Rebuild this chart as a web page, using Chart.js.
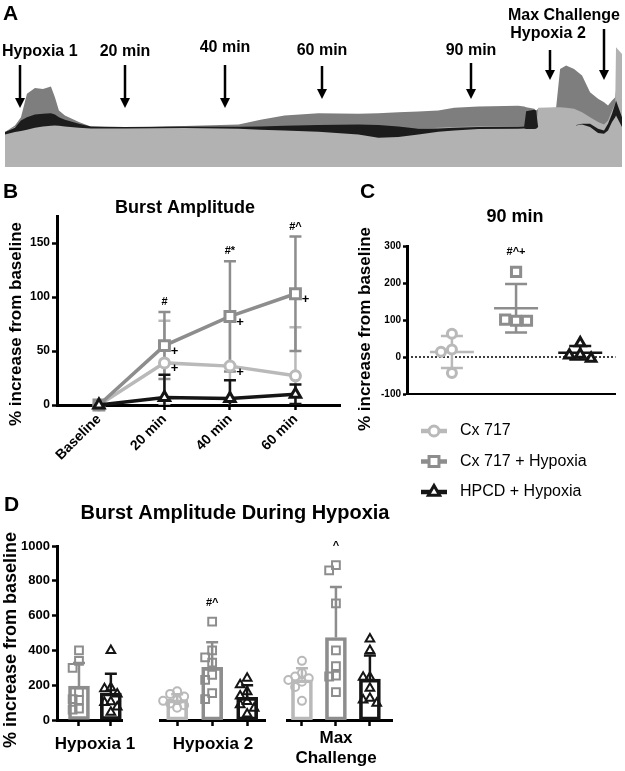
<!DOCTYPE html>
<html>
<head>
<meta charset="utf-8">
<title>Burst amplitude</title>
<script src="https://cdn.jsdelivr.net/npm/chart.js@4.4.1/dist/chart.umd.min.js"></script>
<style>
  html, body { margin: 0; padding: 0; background: #fff; }
  body { width: 625px; height: 771px; position: relative; overflow: hidden; }
  canvas { position: absolute; }
</style>
</head>
<body>
<canvas id="traceChart" width="625" height="178" style="left:0;top:0"></canvas>
<canvas id="burstChart" width="350" height="312" style="left:0;top:178px"></canvas>
<canvas id="min90Chart" width="275" height="352" style="left:350px;top:178px"></canvas>
<canvas id="hyp1Chart" width="400" height="281" style="left:0;top:490px"></canvas>
<canvas id="hyp2Chart" width="400" height="281" style="left:0;top:490px"></canvas>
<canvas id="maxChart" width="400" height="281" style="left:0;top:490px"></canvas>
<script>
const groups = ["Cx 717", "Cx 717 + Hypoxia", "HPCD + Hypoxia"];

// A: raw burst trace (position along the recording, amplitude in arbitrary units)
const traceX = [0, 25, 40, 55, 75, 95, 115, 125, 135, 150, 185, 215, 300, 450, 585, 640, 700, 785, 885, 935, 985, 1035, 1085, 1125, 1185, 1285, 1300, 1305, 1325, 1330, 1335, 1380, 1390, 1405, 1425, 1445, 1465, 1485, 1500, 1510, 1520, 1528, 1530, 1545];
const traceCx717 = [105, 120, 128, 132, 134, 134, 132, 130, 128, 126, 122, 120, 118, 122, 120, 118, 116, 115, 112, 110, 112, 115, 118, 120, 122, 122, 122, 122, 122, 122, 178, 180, 180, 178, 175, 165, 150, 135, 128, 140, 170, 190, 360, 340];
const traceCx717Hyp = [105, 125, 150, 220, 238, 235, 242, 210, 170, 155, 135, 122, 118, 123, 128, 142, 155, 162, 160, 162, 165, 167, 170, 178, 182, 184, 182, 180, 175, 170, 175, 178, 295, 305, 295, 275, 225, 205, 195, 185, 200, 210, 230, 270];
const traceHpcdTop = [105, 118, 140, 150, 158, 160, 162, 158, 150, 142, 130, 122, 120, 122, 121, 122, 124, 126, 128, 126, 122, 115, 116, 118, 120, 121, 122, 168, 172, 170, 120, 120, 120, 120, 125, 130, 130, 115, 110, 130, 160, 190, 200, 150];
const traceHpcdBottom = [98, 105, 108, 112, 118, 122, 124, 125, 124, 122, 118, 116, 116, 117, 115, 112, 110, 106, 98, 88, 90, 98, 106, 110, 114, 115, 116, 114, 114, 115, 120, 120, 120, 120, 125, 128, 120, 102, 100, 110, 135, 150, 155, 120];
const eventLabels = ["Hypoxia 1", "20 min", "40 min", "60 min", "90 min", "Hypoxia 2", "Max Challenge"];
const eventX = [37, 301, 552, 795, 1167, 1365, 1500];

// B: burst amplitude over time (mean and SD)
const timeLabels = ["Baseline", "20 min", "40 min", "60 min"];
const burstCx717 = [0, 39, 36, 27];
const burstCx717Sd = [0, 39, 46, 45];
const burstCx717Hyp = [0, 55, 82, 103];
const burstCx717HypSd = [0, 31, 51, 53];
const burstHpcd = [0, 7, 6, 10];
const burstHpcdSd = [0, 21, 17, 9];
const plusCx717 = [0, 1, 1, 0];
const plusCx717Hyp = [0, 1, 1, 1];
const plusHpcd = [0, 0, 0, 0];
const sigB = ["", "#", "#*", "#^"];
const ticksB = [0, 50, 100, 150];

// C: 90 min, individual animals
const min90Cx717 = [63, 20, 14, -43];
const min90Cx717Hyp = [230, 98, 101, 98];
const min90Hpcd = [38, 7, 5, -4];
const sigC = ["", "#^+", ""];
const ticksC = [-100, 0, 100, 200, 300];

// D: burst amplitude during hypoxia, individual animals
const hypoxiaLabels = ["Hypoxia 1", "Hypoxia 2", ["Max", "Challenge"]];
const hyp1Cx717Hyp = [400, 340, 300, 160, 120, 115, 65, 60];
const hyp1Hpcd = [400, 185, 180, 150, 105, 100, 75, 45];
const hyp2Cx717 = [165, 150, 135, 115, 110, 95, 85, 70];
const hyp2Cx717Hyp = [565, 400, 360, 330, 260, 230, 155, 120];
const hyp2Hpcd = [240, 202, 163, 138, 106, 87, 67, 35];
const maxCx717 = [340, 270, 250, 240, 230, 220, 190, 110];
const maxCx717Hyp = [890, 860, 670, 400, 310, 255, 250, 160];
const maxHpcd = [465, 400, 246, 246, 183, 125, 115, 96];
const sigD = [["", ""], ["", "#^", ""], ["", "^", ""]];
const ticksD = [0, 200, 400, 600, 800, 1000];

const yTitle = "% increase from baseline";

// ---- styling ----
const FONT = "'Liberation Sans', Arial, Helvetica, sans-serif";
const COLORS = ["#b9b9b9", "#8d8d8d", "#151515"];
const STYLES = ["circle", "rect", "triangle"];

Chart.defaults.font.family = FONT;
Chart.defaults.color = "#000";
Chart.defaults.animation = false;
Chart.defaults.responsive = false;
Chart.defaults.plugins.legend.display = false;
Chart.defaults.plugins.tooltip.enabled = false;

const mean = a => a.reduce((s, v) => s + v, 0) / a.length;
const sd = a => {
  const m = mean(a);
  return Math.sqrt(a.reduce((s, v) => s + (v - m) ** 2, 0) / (a.length - 1));
};

// simple beeswarm: spread points sideways when they would overlap
function swarm(vals, gap, step) {
  const placed = [];
  return vals.map(v => {
    for (const k of [0, -1, 1, -2, 2, -3, 3]) {
      if (!placed.some(p => p.k === k && Math.abs(p.v - v) < gap)) {
        placed.push({ k, v });
        return k * step;
      }
    }
    return 0;
  });
}

function yScale(min, max, ticks, o) {
  const shown = o.display !== false;
  return {
    type: "linear", min, max, display: shown,
    afterBuildTicks: s => { s.ticks = ticks.map(value => ({ value })); },
    afterFit: s => { s.width = shown ? o.width : 0; },
    border: { display: true, color: "#000", width: 3 },
    grid: { drawOnChartArea: false, color: "#000", tickLength: o.tick, tickWidth: 2.5 },
    ticks: { callback: v => String(v), font: { size: o.size, weight: "bold" }, padding: 2, color: "#000" }
  };
}

function textsPlugin(items) {
  return {
    id: "texts",
    afterDraw(chart) {
      const ctx = chart.ctx;
      items.forEach(t => {
        ctx.save();
        ctx.translate(t.x, t.y);
        if (t.rot) ctx.rotate(t.rot);
        ctx.font = `bold ${t.size}px ${FONT}`;
        ctx.fillStyle = "#000";
        ctx.textAlign = t.align || "center";
        ctx.textBaseline = "middle";
        ctx.fillText(t.text, 0, 0);
        ctx.restore();
      });
    }
  };
}

function errorBarsPlugin(o) {
  return {
    id: "errorBars",
    beforeDatasetsDraw(chart) {
      const { ctx, chartArea: a } = chart, ys = chart.scales.y;
      ctx.save();
      ctx.beginPath();
      ctx.rect(a.left, 0, chart.width - a.left, a.bottom);
      ctx.clip();
      chart.data.datasets.forEach((ds, di) => {
        if (!ds.errs) return;
        chart.getDatasetMeta(di).data.forEach((el, i) => {
          const e = ds.errs[i];
          if (!e) return;
          const m = ds.data[i].y, x = el.x;
          const y1 = ys.getPixelForValue(m + e);
          const y0 = ys.getPixelForValue(o.upperOnly ? m : m - e);
          ctx.strokeStyle = Array.isArray(ds.borderColor) ? ds.borderColor[i] : ds.borderColor;
          ctx.lineWidth = o.width;
          ctx.beginPath();
          ctx.moveTo(x, y0); ctx.lineTo(x, y1);
          ctx.moveTo(x - o.cap, y1); ctx.lineTo(x + o.cap, y1);
          if (!o.upperOnly) { ctx.moveTo(x - o.cap, y0); ctx.lineTo(x + o.cap, y0); }
          ctx.stroke();
        });
      });
      ctx.restore();
    }
  };
}

function sigPlugin(labels, tops, gap, size) {
  return {
    id: "sig",
    afterDatasetsDraw(chart) {
      const ctx = chart.ctx, xs = chart.scales.x, ys = chart.scales.y;
      ctx.save();
      ctx.font = `bold ${size}px ${FONT}`;
      ctx.fillStyle = "#000";
      ctx.textAlign = "center";
      ctx.textBaseline = "middle";
      labels.forEach((t, i) => {
        if (t) ctx.fillText(t, xs.getPixelForValue(i), ys.getPixelForValue(tops[i]) - gap);
      });
      ctx.restore();
    }
  };
}

function marker(ctx, style, x, y, r) {
  ctx.beginPath();
  if (style === "circle") {
    ctx.arc(x, y, r, 0, Math.PI * 2);
  } else if (style === "rect") {
    const s = r * Math.SQRT1_2;
    ctx.rect(x - s, y - s, 2 * s, 2 * s);
  } else {
    ctx.moveTo(x, y - r);
    ctx.lineTo(x + r * 0.866, y + r * 0.5);
    ctx.lineTo(x - r * 0.866, y + r * 0.5);
    ctx.closePath();
  }
  ctx.fill();
  ctx.stroke();
}

// ---- A: trace ----
const pts = ys => traceX.map((x, i) => ({ x, y: ys[i] }));
const arrowLayout = [
  { top: 65, tip: 108, ly: 52, align: "left", lx: 2 },
  { top: 65, tip: 108, ly: 52 },
  { top: 65, tip: 108, ly: 48 },
  { top: 66, tip: 99, ly: 51 },
  { top: 63, tip: 99, ly: 51 },
  { top: 50, tip: 80, ly: 34, dx: -2 },
  { top: 29, tip: 80, ly: 16, align: "right", lx: 620 }
];
const arrowsPlugin = {
  id: "arrows",
  afterDraw(chart) {
    const ctx = chart.ctx, xs = chart.scales.x;
    arrowLayout.forEach((a, i) => {
      const x = Math.round(xs.getPixelForValue(eventX[i]));
      ctx.save();
      ctx.strokeStyle = ctx.fillStyle = "#000";
      ctx.lineWidth = 2.5;
      ctx.beginPath(); ctx.moveTo(x, a.top); ctx.lineTo(x, a.tip - 8); ctx.stroke();
      ctx.beginPath();
      ctx.moveTo(x - 5, a.tip - 10); ctx.lineTo(x + 5, a.tip - 10); ctx.lineTo(x, a.tip);
      ctx.closePath(); ctx.fill();
      ctx.font = `bold 16px ${FONT}`;
      ctx.textAlign = a.align || "center";
      ctx.textBaseline = "middle";
      ctx.fillText(eventLabels[i], a.lx !== undefined ? a.lx : x + (a.dx || 0), a.ly);
      ctx.restore();
    });
  }
};
const flat = { borderWidth: 0, borderColor: "rgba(0,0,0,0)", pointRadius: 0, tension: 0 };
new Chart(document.getElementById("traceChart"), {
  type: "line",
  data: {
    datasets: [
      { ...flat, data: pts(traceHpcdTop), fill: "+1", backgroundColor: "#1c1c1c", order: 1 },
      { ...flat, data: pts(traceHpcdBottom), fill: false, order: 1 },
      { ...flat, data: pts(traceCx717), fill: "origin", backgroundColor: "#b2b2b2", order: 2 },
      { ...flat, data: pts(traceCx717Hyp), fill: "origin", backgroundColor: "#7e7e7e", order: 3 }
    ]
  },
  options: {
    layout: { padding: { left: 5, right: 3, top: 44, bottom: 11 } },
    scales: {
      x: { type: "linear", display: false, min: 0, max: 1545 },
      y: { type: "linear", display: false, min: 0, max: 370 }
    }
  },
  plugins: [arrowsPlugin, textsPlugin([{ text: "A", x: 3, y: 14, size: 21, align: "left" }])]
});

// ---- B: burst amplitude over time ----
const seriesB = [
  { means: burstCx717, sd: burstCx717Sd, plus: plusCx717, g: 0, r: 5, order: 3 },
  { means: burstCx717Hyp, sd: burstCx717HypSd, plus: plusCx717Hyp, g: 1, r: 7, order: 2 },
  { means: burstHpcd, sd: burstHpcdSd, plus: plusHpcd, g: 2, r: 6, order: 1 }
];
const plusPlugin = {
  id: "plus",
  afterDatasetsDraw(chart) {
    const ctx = chart.ctx;
    ctx.save();
    ctx.font = `bold 13px ${FONT}`;
    ctx.fillStyle = "#000";
    ctx.textAlign = "center";
    ctx.textBaseline = "middle";
    chart.data.datasets.forEach((ds, di) => {
      chart.getDatasetMeta(di).data.forEach((el, i) => {
        if (ds.plus[i]) ctx.fillText("+", el.x + 10, el.y + 6);
      });
    });
    ctx.restore();
  }
};
new Chart(document.getElementById("burstChart"), {
  type: "line",
  data: {
    datasets: seriesB.map(s => ({
      label: groups[s.g],
      data: s.means.map((y, i) => ({ x: i, y })),
      errs: s.sd, plus: s.plus,
      borderColor: COLORS[s.g], borderWidth: 3.5, tension: 0,
      pointStyle: STYLES[s.g], pointRadius: s.r, pointBorderWidth: 3,
      pointBorderColor: COLORS[s.g], pointBackgroundColor: "#fff",
      order: s.order, clip: false
    }))
  },
  options: {
    layout: { padding: { top: 38, right: 8, left: 0, bottom: 0 } },
    scales: {
      x: {
        type: "linear", min: -0.64, max: 3.68,
        afterBuildTicks: s => { s.ticks = timeLabels.map((_, i) => ({ value: i })); },
        afterFit: s => { s.height = 85; },
        border: { display: true, color: "#000", width: 3 },
        grid: { drawOnChartArea: false, color: "#000", tickLength: 5, tickWidth: 2.5 },
        ticks: {
          callback: v => timeLabels[v], minRotation: 45, maxRotation: 45, autoSkip: false,
          font: { size: 14, weight: "bold" }, padding: 1, color: "#000"
        }
      },
      y: yScale(0, 175, ticksB, { width: 57, tick: 5, size: 12 })
    }
  },
  plugins: [
    errorBarsPlugin({ cap: 6, width: 2.5 }),
    plusPlugin,
    sigPlugin(sigB, timeLabels.map((_, i) => Math.max(...seriesB.map(s => s.means[i] + s.sd[i]))), 10, 11),
    textsPlugin([
      { text: "B", x: 3, y: 14, size: 21, align: "left" },
      { text: "Burst Amplitude", x: 185, y: 30, size: 18 },
      { text: yTitle, x: 16, y: 146, size: 17, rot: -Math.PI / 2 }
    ])
  ]
});

// ---- C: 90 min ----
const setsC = [min90Cx717, min90Cx717Hyp, min90Hpcd];
const sizeC = [4.5, 6.5, 5.5];
const meanSdPlugin = {
  id: "meanSd",
  beforeDatasetsDraw(chart) {
    const { ctx, chartArea: a } = chart, xs = chart.scales.x, ys = chart.scales.y;
    ctx.save();
    const y0 = ys.getPixelForValue(0);
    ctx.strokeStyle = "#000";
    ctx.lineWidth = 1.5;
    ctx.setLineDash([2, 2]);
    ctx.beginPath(); ctx.moveTo(a.left, y0); ctx.lineTo(a.right, y0); ctx.stroke();
    ctx.setLineDash([]);
    chart.data.datasets.forEach((ds, g) => {
      const m = mean(ds.stats), s = sd(ds.stats), x = xs.getPixelForValue(g);
      const ym = ys.getPixelForValue(m), yt = ys.getPixelForValue(m + s), yb = ys.getPixelForValue(m - s);
      ctx.strokeStyle = ds.pointBorderColor;
      ctx.lineWidth = 2.5;
      ctx.beginPath();
      ctx.moveTo(x - 22, ym); ctx.lineTo(x + 22, ym);
      ctx.moveTo(x, yt); ctx.lineTo(x, yb);
      ctx.moveTo(x - 11, yt); ctx.lineTo(x + 11, yt);
      ctx.moveTo(x - 11, yb); ctx.lineTo(x + 11, yb);
      ctx.stroke();
    });
    ctx.restore();
  }
};
const legendPlugin = {
  id: "legendRows",
  afterDraw(chart) {
    const ctx = chart.ctx, x = 84;
    chart.data.datasets.forEach((ds, g) => {
      const y = 253 + g * 30.5;
      ctx.save();
      ctx.strokeStyle = ds.pointBorderColor;
      ctx.lineWidth = 4.5;
      ctx.beginPath(); ctx.moveTo(x - 13, y); ctx.lineTo(x + 13, y); ctx.stroke();
      ctx.fillStyle = "#fff";
      ctx.lineWidth = 3;
      marker(ctx, ds.pointStyle, x, y, [5, 7, 6.5][g]);
      ctx.fillStyle = "#000";
      ctx.font = `16px ${FONT}`;
      ctx.textAlign = "left";
      ctx.textBaseline = "middle";
      ctx.fillText(ds.label, x + 26, y);
      ctx.restore();
    });
  }
};
new Chart(document.getElementById("min90Chart"), {
  type: "scatter",
  data: {
    datasets: setsC.map((vals, g) => {
      const jit = swarm(vals, 27, 0.17);
      return {
        label: groups[g], stats: vals,
        data: vals.map((y, k) => ({ x: g + jit[k], y })),
        pointStyle: STYLES[g], pointRadius: sizeC[g], pointBorderWidth: 3,
        pointBorderColor: COLORS[g], pointBackgroundColor: "#fff", clip: false
      };
    })
  },
  options: {
    layout: { padding: { top: 68, right: 3, left: 0, bottom: 0 } },
    scales: {
      x: {
        type: "linear", min: -0.7, max: 2.55,
        afterFit: s => { s.height = 136; },
        border: { display: true, color: "#000", width: 2 },
        grid: { display: false }, ticks: { display: false }
      },
      y: yScale(-100, 300, ticksC, { width: 57, tick: 4, size: 10 })
    }
  },
  plugins: [
    meanSdPlugin, legendPlugin,
    sigPlugin(sigC, setsC.map(v => Math.max(...v)), 20, 11),
    textsPlugin([
      { text: "C", x: 10, y: 14, size: 21, align: "left" },
      { text: "90 min", x: 165, y: 39, size: 18 },
      { text: yTitle, x: 15, y: 151, size: 17, rot: -Math.PI / 2 }
    ])
  ]
});

// ---- D: during hypoxia ----
function hypoxiaChart(id, idx, sets, cfg) {
  const datasets = [{
    type: "bar",
    data: sets.map((s, i) => ({ x: i, y: mean(s.vals) })),
    errs: sets.map(s => sd(s.vals)),
    backgroundColor: "rgba(255,255,255,0)",
    borderColor: sets.map(s => COLORS[s.g]),
    borderWidth: 3, borderSkipped: false, barThickness: 21, order: 1
  }];
  sets.forEach((s, i) => {
    const jit = swarm(s.vals, 45, 0.2);
    datasets.push({
      type: "scatter",
      data: s.vals.map((y, k) => ({ x: i + jit[k], y })),
      pointStyle: STYLES[s.g], pointRadius: [4, 5.5, 5][s.g], pointBorderWidth: 2,
      pointBorderColor: COLORS[s.g], pointBackgroundColor: "rgba(255,255,255,0)",
      order: 0, clip: false
    });
  });
  // group label under the axis, one line per entry
  const lines = [].concat(hypoxiaLabels[idx]);
  const texts = (cfg.texts || []).concat(lines.map((t, k) => ({
    text: t, x: cfg.labelX, y: cfg.labelY + k * 20, size: 17
  })));
  return new Chart(document.getElementById(id), {
    type: "bar",
    data: { datasets },
    options: {
      layout: { padding: { top: 56, right: cfg.padR, left: cfg.padL, bottom: 0 } },
      scales: {
        x: {
          type: "linear", min: cfg.min, max: cfg.max, offset: false,
          afterBuildTicks: s => { s.ticks = sets.map((_, i) => ({ value: i })); },
          afterFit: s => { s.height = 51; },
          border: { display: true, color: "#000", width: 3 },
          grid: { drawOnChartArea: false, offset: false, color: "#000", tickLength: 6, tickWidth: 2.5 },
          ticks: { callback: () => "", padding: 0 }
        },
        y: yScale(0, 1000, ticksD, { width: 57, tick: 5, size: 13, display: cfg.showY })
      }
    },
    plugins: [
      errorBarsPlugin({ cap: 6, width: 2.5, upperOnly: true }),
      sigPlugin(sigD[idx], sets.map(s => Math.max(...s.vals)), 19, 11),
      textsPlugin(texts)
    ]
  });
}

hypoxiaChart("hyp1Chart", 0, [{ g: 1, vals: hyp1Cx717Hyp }, { g: 2, vals: hyp1Hpcd }], {
  padL: 0, padR: 278, min: -0.69, max: 1.35, showY: true, labelX: 95, labelY: 254,
  texts: [
    { text: "D", x: 4, y: 15, size: 21, align: "left" },
    { text: "Burst Amplitude During Hypoxia", x: 235, y: 23, size: 20 },
    { text: yTitle, x: 11, y: 150, size: 18, rot: -Math.PI / 2 }
  ]
});
hypoxiaChart("hyp2Chart", 1, [{ g: 0, vals: hyp2Cx717 }, { g: 1, vals: hyp2Cx717Hyp }, { g: 2, vals: hyp2Hpcd }], {
  padL: 160, padR: 135, min: -0.49, max: 2.51, showY: false, labelX: 213, labelY: 254
});
hypoxiaChart("maxChart", 2, [{ g: 0, vals: maxCx717 }, { g: 1, vals: maxCx717Hyp }, { g: 2, vals: maxHpcd }], {
  padL: 287, padR: 8, min: -0.44, max: 2.65, showY: false, labelX: 336, labelY: 248
});
</script>
</body>
</html>
